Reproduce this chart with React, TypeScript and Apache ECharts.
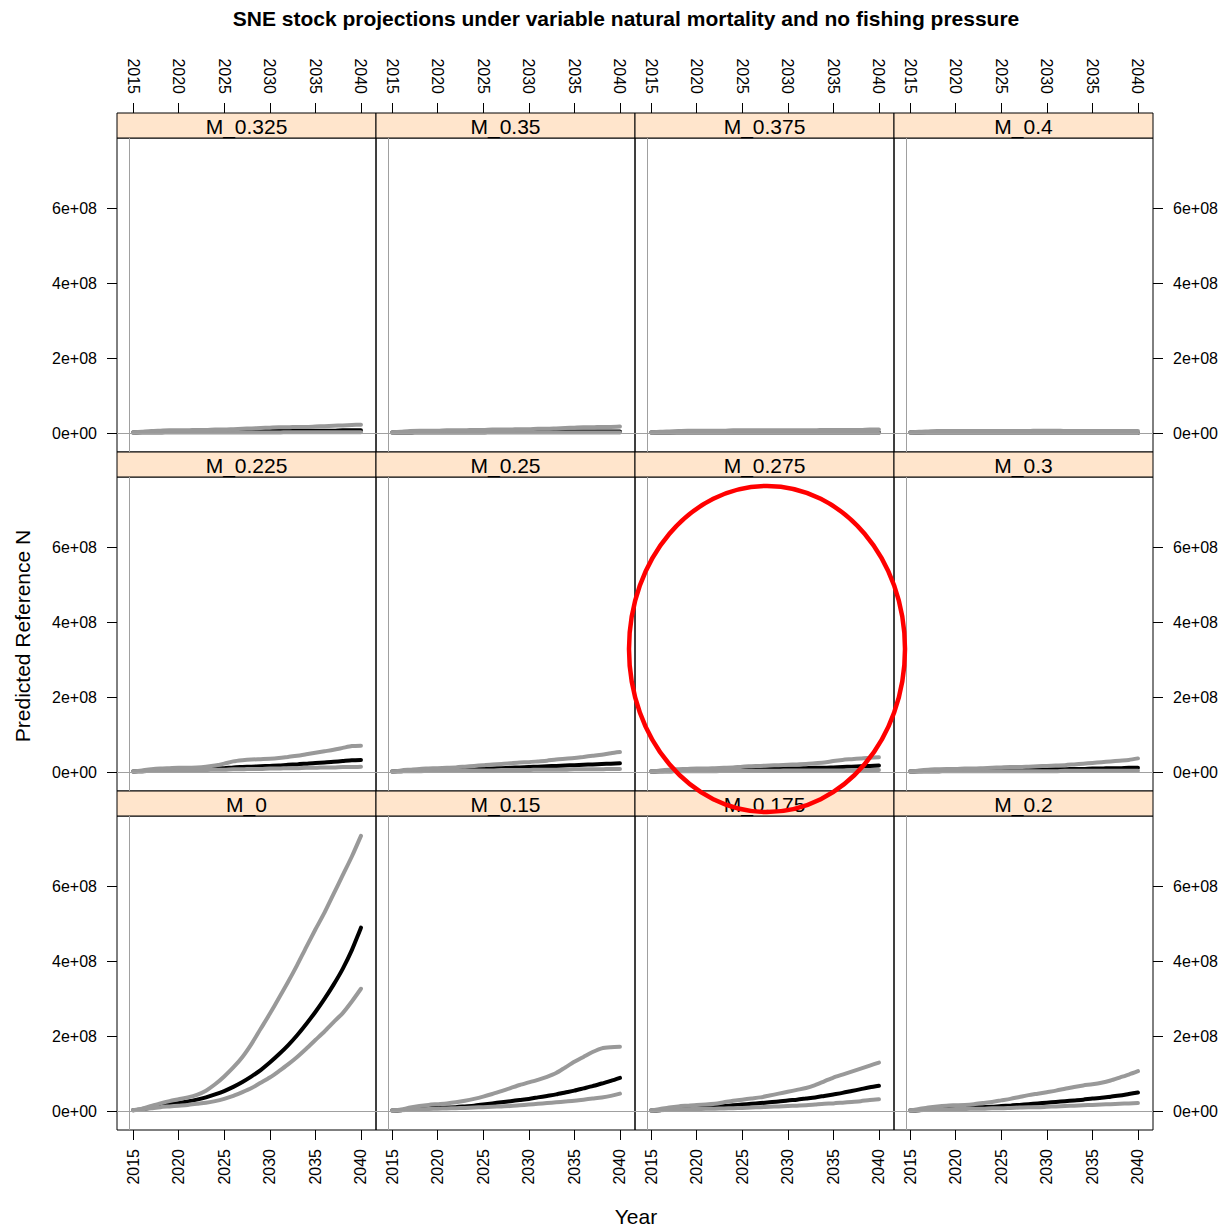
import React, { useEffect, useRef } from "react";
import * as echarts from "echarts";

// Years (x values)
const years = [2015, 2016, 2017, 2018, 2019, 2020, 2021, 2022, 2023, 2024, 2025, 2026, 2027, 2028, 2029, 2030, 2031, 2032, 2033, 2034, 2035, 2036, 2037, 2038, 2039, 2040];
const yearTicks = [2015, 2020, 2025, 2030, 2035, 2040];
// y values are in units of 1e8
const yTicks = [0, 2, 4, 6];

// Top row
const upper_M0325 = [0.02, 0.04, 0.06, 0.07, 0.08, 0.08, 0.08, 0.09, 0.09, 0.1, 0.1, 0.11, 0.12, 0.13, 0.14, 0.15, 0.16, 0.16, 0.17, 0.17, 0.18, 0.19, 0.2, 0.21, 0.22, 0.23];
const median_M0325 = [0.02, 0.03, 0.03, 0.03, 0.04, 0.04, 0.04, 0.04, 0.04, 0.05, 0.05, 0.05, 0.05, 0.06, 0.06, 0.06, 0.06, 0.06, 0.07, 0.07, 0.07, 0.07, 0.07, 0.08, 0.08, 0.08];
const lower_M0325 = [0.02, 0.02, 0.02, 0.02, 0.02, 0.02, 0.02, 0.02, 0.02, 0.02, 0.02, 0.02, 0.02, 0.02, 0.02, 0.02, 0.02, 0.03, 0.03, 0.03, 0.03, 0.03, 0.03, 0.03, 0.03, 0.03];

const upper_M035 = [0.02, 0.04, 0.06, 0.07, 0.07, 0.07, 0.08, 0.08, 0.08, 0.09, 0.09, 0.1, 0.1, 0.1, 0.11, 0.11, 0.12, 0.12, 0.13, 0.14, 0.15, 0.16, 0.16, 0.17, 0.17, 0.18];
const median_M035 = [0.02, 0.02, 0.02, 0.03, 0.03, 0.03, 0.03, 0.03, 0.03, 0.03, 0.03, 0.04, 0.04, 0.04, 0.04, 0.04, 0.04, 0.04, 0.04, 0.05, 0.05, 0.05, 0.05, 0.05, 0.05, 0.05];
const lower_M035 = [0.02, 0.02, 0.02, 0.02, 0.02, 0.02, 0.02, 0.02, 0.02, 0.02, 0.02, 0.02, 0.02, 0.02, 0.02, 0.02, 0.02, 0.02, 0.02, 0.02, 0.02, 0.02, 0.02, 0.02, 0.02, 0.02];

const upper_M0375 = [0.02, 0.04, 0.05, 0.06, 0.07, 0.07, 0.07, 0.07, 0.07, 0.08, 0.08, 0.08, 0.08, 0.08, 0.08, 0.08, 0.08, 0.08, 0.08, 0.09, 0.09, 0.09, 0.09, 0.09, 0.1, 0.1];
const median_M0375 = [0.02, 0.02, 0.02, 0.02, 0.02, 0.02, 0.02, 0.02, 0.02, 0.02, 0.02, 0.02, 0.02, 0.02, 0.02, 0.02, 0.02, 0.02, 0.02, 0.02, 0.02, 0.02, 0.02, 0.02, 0.02, 0.02];
const lower_M0375 = [0.02, 0.02, 0.02, 0.01, 0.01, 0.01, 0.01, 0.01, 0.01, 0.01, 0.01, 0.01, 0.01, 0.01, 0.01, 0.01, 0.01, 0.01, 0.01, 0.01, 0.01, 0.01, 0.01, 0.01, 0.01, 0.01];

const upper_M04 = [0.02, 0.04, 0.05, 0.06, 0.06, 0.06, 0.06, 0.06, 0.06, 0.06, 0.06, 0.06, 0.06, 0.06, 0.07, 0.07, 0.07, 0.06, 0.06, 0.06, 0.06, 0.06, 0.06, 0.06, 0.06, 0.06];
const median_M04 = [0.02, 0.02, 0.02, 0.02, 0.02, 0.02, 0.02, 0.02, 0.02, 0.02, 0.02, 0.02, 0.02, 0.02, 0.02, 0.02, 0.01, 0.01, 0.01, 0.01, 0.01, 0.01, 0.01, 0.01, 0.01, 0.01];
const lower_M04 = [0.02, 0.02, 0.01, 0.01, 0.01, 0.01, 0.01, 0.01, 0.01, 0.01, 0.01, 0.01, 0.01, 0.01, 0.01, 0.01, 0.01, 0.01, 0.01, 0.01, 0.01, 0.01, 0.01, 0.01, 0.01, 0.01];

// Middle row
const upper_M0225 = [0.02, 0.05, 0.08, 0.1, 0.11, 0.12, 0.12, 0.13, 0.15, 0.18, 0.23, 0.29, 0.32, 0.34, 0.35, 0.36, 0.38, 0.41, 0.44, 0.48, 0.52, 0.56, 0.6, 0.65, 0.7, 0.71];
const median_M0225 = [0.02, 0.03, 0.04, 0.05, 0.06, 0.06, 0.07, 0.08, 0.09, 0.1, 0.11, 0.13, 0.14, 0.15, 0.16, 0.17, 0.18, 0.2, 0.21, 0.23, 0.25, 0.26, 0.28, 0.3, 0.32, 0.33];
const lower_M0225 = [0.02, 0.03, 0.04, 0.04, 0.05, 0.05, 0.05, 0.06, 0.06, 0.07, 0.07, 0.08, 0.08, 0.09, 0.09, 0.1, 0.1, 0.11, 0.11, 0.12, 0.12, 0.13, 0.13, 0.14, 0.14, 0.15];

const upper_M025 = [0.02, 0.05, 0.07, 0.09, 0.1, 0.11, 0.12, 0.13, 0.15, 0.17, 0.19, 0.21, 0.22, 0.24, 0.26, 0.27, 0.29, 0.31, 0.34, 0.36, 0.38, 0.41, 0.44, 0.47, 0.51, 0.54];
const median_M025 = [0.02, 0.03, 0.04, 0.04, 0.05, 0.05, 0.06, 0.06, 0.07, 0.08, 0.09, 0.1, 0.11, 0.12, 0.13, 0.14, 0.15, 0.16, 0.17, 0.18, 0.19, 0.2, 0.21, 0.22, 0.23, 0.24];
const lower_M025 = [0.02, 0.03, 0.03, 0.03, 0.04, 0.04, 0.04, 0.04, 0.05, 0.05, 0.05, 0.05, 0.06, 0.06, 0.06, 0.06, 0.07, 0.07, 0.07, 0.07, 0.08, 0.08, 0.08, 0.08, 0.09, 0.09];

const upper_M0275 = [0.02, 0.05, 0.07, 0.08, 0.09, 0.1, 0.1, 0.11, 0.12, 0.13, 0.15, 0.16, 0.17, 0.18, 0.19, 0.2, 0.21, 0.22, 0.24, 0.26, 0.3, 0.33, 0.35, 0.37, 0.39, 0.4];
const median_M0275 = [0.02, 0.03, 0.03, 0.04, 0.04, 0.04, 0.05, 0.05, 0.06, 0.06, 0.07, 0.07, 0.08, 0.09, 0.09, 0.1, 0.1, 0.11, 0.12, 0.12, 0.13, 0.14, 0.15, 0.16, 0.17, 0.18];
const lower_M0275 = [0.02, 0.02, 0.03, 0.03, 0.03, 0.03, 0.03, 0.03, 0.04, 0.04, 0.04, 0.04, 0.04, 0.04, 0.04, 0.05, 0.05, 0.05, 0.05, 0.05, 0.05, 0.05, 0.06, 0.06, 0.06, 0.06];

const upper_M03 = [0.02, 0.05, 0.07, 0.08, 0.09, 0.09, 0.1, 0.1, 0.11, 0.12, 0.13, 0.14, 0.14, 0.15, 0.16, 0.17, 0.18, 0.19, 0.21, 0.23, 0.25, 0.27, 0.29, 0.31, 0.33, 0.37];
const median_M03 = [0.02, 0.03, 0.03, 0.03, 0.04, 0.04, 0.04, 0.05, 0.05, 0.05, 0.06, 0.06, 0.06, 0.07, 0.07, 0.08, 0.08, 0.08, 0.09, 0.09, 0.1, 0.1, 0.11, 0.11, 0.12, 0.12];
const lower_M03 = [0.02, 0.02, 0.03, 0.03, 0.03, 0.03, 0.03, 0.03, 0.03, 0.03, 0.03, 0.03, 0.03, 0.03, 0.03, 0.03, 0.03, 0.04, 0.04, 0.04, 0.04, 0.04, 0.04, 0.04, 0.04, 0.04];

// Bottom row
const upper_M0 = [0.03, 0.07, 0.14, 0.21, 0.27, 0.32, 0.37, 0.44, 0.55, 0.72, 0.93, 1.17, 1.45, 1.8, 2.2, 2.6, 3.02, 3.45, 3.9, 4.38, 4.85, 5.3, 5.8, 6.3, 6.8, 7.35];
const median_M0 = [0.03, 0.05, 0.1, 0.15, 0.19, 0.22, 0.26, 0.31, 0.37, 0.45, 0.54, 0.65, 0.78, 0.93, 1.1, 1.3, 1.52, 1.76, 2.03, 2.33, 2.65, 3.0, 3.38, 3.8, 4.3, 4.9];
const lower_M0 = [0.03, 0.05, 0.08, 0.11, 0.13, 0.15, 0.17, 0.2, 0.23, 0.27, 0.33, 0.41, 0.51, 0.62, 0.76, 0.9, 1.07, 1.25, 1.45, 1.67, 1.9, 2.13, 2.38, 2.62, 2.93, 3.27];

const upper_M015 = [0.02, 0.05, 0.1, 0.14, 0.17, 0.19, 0.21, 0.24, 0.28, 0.33, 0.39, 0.46, 0.54, 0.62, 0.7, 0.77, 0.84, 0.92, 1.02, 1.17, 1.32, 1.45, 1.58, 1.68, 1.71, 1.72];
const median_M015 = [0.02, 0.03, 0.05, 0.07, 0.08, 0.09, 0.1, 0.11, 0.13, 0.15, 0.18, 0.21, 0.24, 0.27, 0.3, 0.33, 0.37, 0.41, 0.45, 0.5, 0.55, 0.61, 0.67, 0.74, 0.81, 0.89];
const lower_M015 = [0.02, 0.03, 0.04, 0.05, 0.06, 0.07, 0.075, 0.08, 0.09, 0.1, 0.11, 0.12, 0.13, 0.14, 0.16, 0.18, 0.2, 0.22, 0.24, 0.26, 0.28, 0.31, 0.34, 0.37, 0.41, 0.47];

const upper_M0175 = [0.02, 0.06, 0.1, 0.13, 0.15, 0.17, 0.18, 0.2, 0.24, 0.28, 0.31, 0.34, 0.37, 0.42, 0.47, 0.52, 0.57, 0.62, 0.7, 0.8, 0.9, 0.98, 1.06, 1.14, 1.22, 1.3];
const median_M0175 = [0.02, 0.03, 0.05, 0.07, 0.08, 0.09, 0.1, 0.12, 0.14, 0.16, 0.18, 0.2, 0.22, 0.24, 0.26, 0.29, 0.31, 0.34, 0.37, 0.41, 0.45, 0.49, 0.54, 0.59, 0.64, 0.68];
const lower_M0175 = [0.02, 0.03, 0.04, 0.05, 0.055, 0.06, 0.065, 0.07, 0.075, 0.08, 0.09, 0.1, 0.11, 0.12, 0.13, 0.14, 0.15, 0.16, 0.18, 0.2, 0.21, 0.23, 0.25, 0.27, 0.3, 0.32];

const upper_M02 = [0.02, 0.06, 0.1, 0.13, 0.15, 0.16, 0.17, 0.19, 0.22, 0.25, 0.29, 0.33, 0.38, 0.43, 0.47, 0.51, 0.55, 0.6, 0.65, 0.69, 0.72, 0.76, 0.82, 0.9, 0.98, 1.07];
const median_M02 = [0.02, 0.03, 0.05, 0.06, 0.07, 0.08, 0.09, 0.1, 0.11, 0.12, 0.14, 0.15, 0.17, 0.19, 0.21, 0.23, 0.25, 0.27, 0.29, 0.31, 0.34, 0.36, 0.39, 0.42, 0.46, 0.5];
const lower_M02 = [0.02, 0.03, 0.04, 0.05, 0.05, 0.06, 0.06, 0.07, 0.07, 0.08, 0.08, 0.09, 0.1, 0.11, 0.11, 0.12, 0.13, 0.14, 0.15, 0.16, 0.17, 0.18, 0.19, 0.2, 0.21, 0.22];

const panelNames = ["M_0.325", "M_0.35", "M_0.375", "M_0.4", "M_0.225", "M_0.25", "M_0.275", "M_0.3", "M_0", "M_0.15", "M_0.175", "M_0.2"];
const uppers = [upper_M0325, upper_M035, upper_M0375, upper_M04, upper_M0225, upper_M025, upper_M0275, upper_M03, upper_M0, upper_M015, upper_M0175, upper_M02];
const medians = [median_M0325, median_M035, median_M0375, median_M04, median_M0225, median_M025, median_M0275, median_M03, median_M0, median_M015, median_M0175, median_M02];
const lowers = [lower_M0325, lower_M035, lower_M0375, lower_M04, lower_M0225, lower_M025, lower_M0275, lower_M03, lower_M0, lower_M015, lower_M0175, lower_M02];

const FONT = "'Liberation Sans', Arial, Helvetica, sans-serif";

export default function App() {
  const ref = useRef<HTMLDivElement>(null);
  useEffect(() => {
    if (!ref.current) return;
    const chart = echarts.init(ref.current, null, { renderer: "svg" });

    const colLeft = [117, 376, 635, 894];
    const colW = 259;
    const rowTop = [138, 477, 816];
    const rowH = 314;
    const stripH = 25;
    const xMin = 2013.24, xMax = 2041.65;
    const yMin = -0.5, yMax = 7.88;
    const grey = "#999999";

    const grids: any[] = [];
    const xAxes: any[] = [];
    const yAxes: any[] = [];
    const series: any[] = [];
    const graphics: any[] = [];

    panelNames.forEach((name, i) => {
      const r = Math.floor(i / 4);
      const c = i % 4;
      const left = colLeft[c];
      const top = rowTop[r];
      grids.push({
        left, top, width: colW, height: rowH,
        show: true, borderColor: "#000", borderWidth: 1, backgroundColor: "transparent",
      });
      const showX = r !== 1;
      xAxes.push({
        gridIndex: i, type: "value", min: xMin, max: xMax,
        position: r === 0 ? "top" : "bottom",
        offset: r === 0 ? stripH : 0,
        axisLine: { show: false, onZero: false },
        splitLine: { show: false },
        axisTick: { show: showX, length: 10, inside: false, customValues: yearTicks, lineStyle: { color: "#000", width: 1 } },
        axisLabel: {
          show: showX, rotate: 90, margin: 19, customValues: yearTicks,
          color: "#000", fontSize: 16, fontFamily: FONT,
          formatter: (v: number) => String(v),
        },
      });
      const showY = c === 0 || c === 3;
      yAxes.push({
        gridIndex: i, type: "value", min: yMin, max: yMax,
        position: c === 3 ? "right" : "left",
        axisLine: { show: false, onZero: false },
        splitLine: { show: false },
        axisTick: { show: showY, length: 10, inside: false, customValues: yTicks, lineStyle: { color: "#000", width: 1 } },
        axisLabel: {
          show: showY, margin: 20, customValues: yTicks,
          color: "#000", fontSize: 16, fontFamily: FONT,
          formatter: (v: number) => (v === 0 ? "0e+00" : `${v}e+08`),
        },
      });
      // reference lines
      series.push({
        type: "line", xAxisIndex: i, yAxisIndex: i, data: [], z: 1, silent: true,
        markLine: {
          silent: true, symbol: "none", animation: false,
          label: { show: false },
          lineStyle: { color: "#a0a0a0", width: 1, type: "solid" },
          data: [{ xAxis: 2014.53 }, { yAxis: 0 }],
        },
      });
      const mk = (arr: number[]) => years.map((y, k) => [y, arr[k]]);
      const lineBase = { type: "line", xAxisIndex: i, yAxisIndex: i, symbol: "none", showSymbol: false, silent: true, smooth: 0.25 };
      series.push({
        ...lineBase, data: mk(medians[i]), z: 2,
        lineStyle: { color: "#000", width: 4, cap: "round", join: "round" },
      });
      series.push({
        ...lineBase, data: mk(lowers[i]), z: 3,
        lineStyle: { color: grey, width: 4, cap: "round", join: "round" },
      });
      series.push({
        ...lineBase, data: mk(uppers[i]), z: 3,
        lineStyle: { color: grey, width: 4, cap: "round", join: "round" },
      });
      // strip
      graphics.push({
        type: "rect", z: 5,
        shape: { x: left, y: top - stripH, width: colW, height: stripH },
        style: { fill: "#FFE5CC", stroke: "#000", lineWidth: 1 },
      });
      graphics.push({
        type: "text", z: 6,
        x: left + colW / 2, y: top - stripH / 2 + 1,
        style: { text: name, fill: "#000", font: `21px ${FONT}`, textAlign: "center", textVerticalAlign: "middle" },
      });
    });

    graphics.push({
      type: "text", z: 6, x: 626, y: 18,
      style: {
        text: "SNE stock projections under variable natural mortality and no fishing pressure",
        fill: "#000", font: `bold 21px ${FONT}`, textAlign: "center", textVerticalAlign: "middle",
      },
    });
    graphics.push({
      type: "text", z: 6, x: 636, y: 1216,
      style: { text: "Year", fill: "#000", font: `21px ${FONT}`, textAlign: "center", textVerticalAlign: "middle" },
    });
    graphics.push({
      type: "text", z: 6, x: 22, y: 636, rotation: Math.PI / 2,
      style: { text: "Predicted Reference N", fill: "#000", font: `21px ${FONT}`, textAlign: "center", textVerticalAlign: "middle" },
    });
    graphics.push({
      type: "ellipse", z: 100,
      shape: { cx: 767, cy: 649, rx: 138, ry: 163 },
      style: { fill: "none", stroke: "#ff0000", lineWidth: 4.5 },
    });

    chart.setOption({
      animation: false,
      backgroundColor: "#fff",
      grid: grids,
      xAxis: xAxes,
      yAxis: yAxes,
      series,
      graphic: graphics,
    });
    return () => chart.dispose();
  }, []);
  return <div ref={ref} style={{ position: "fixed", left: 0, top: 0, width: 1226, height: 1228 }} />;
}
